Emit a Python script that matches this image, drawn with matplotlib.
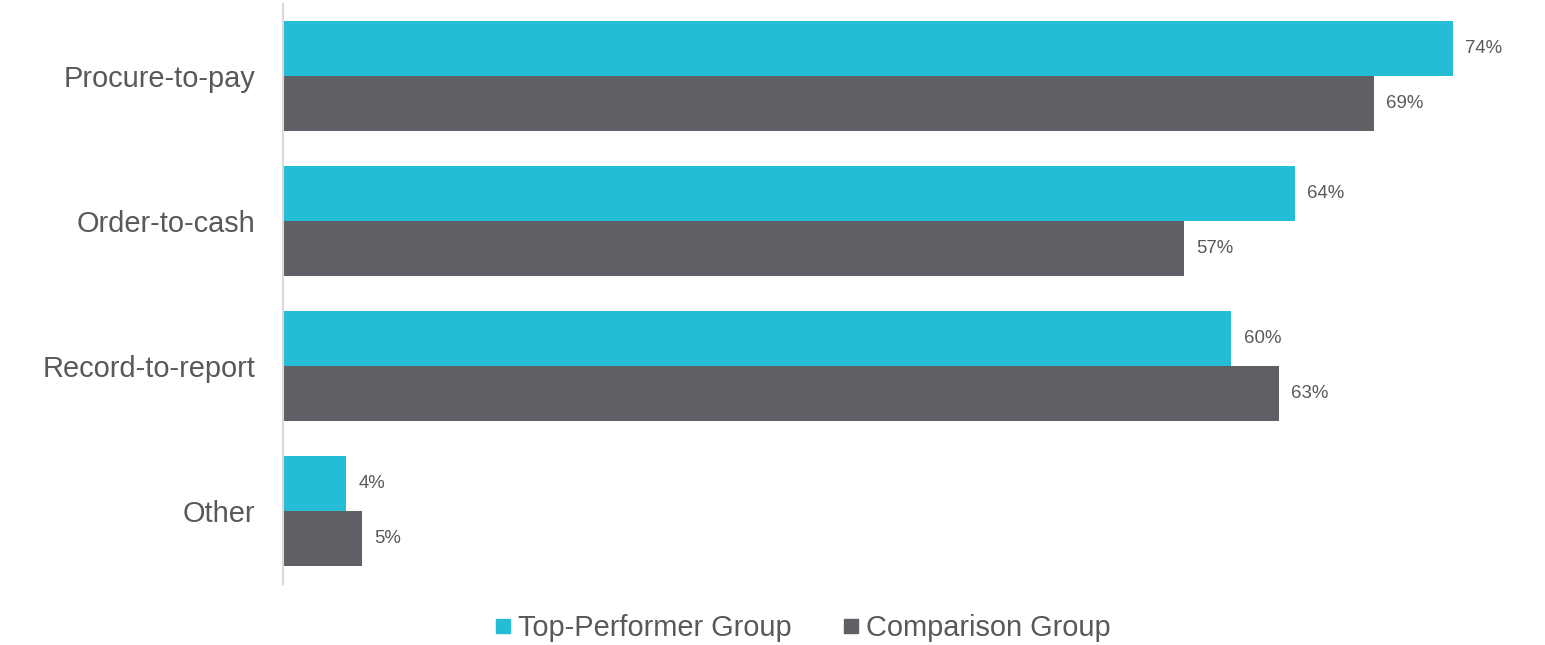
import matplotlib
matplotlib.use("Agg")
import matplotlib.pyplot as plt
from matplotlib.lines import Line2D
import numpy as np

plt.rcParams['font.family'] = ['Liberation Sans', 'DejaVu Sans']

categories = ["Procure-to-pay", "Order-to-cash", "Record-to-report", "Other"]
top_performer = [74, 64, 60, 4]
comparison = [69, 57, 63, 5]
series_names = ["Top-Performer Group", "Comparison Group"]

c_top = "#25BCD6"
c_cmp = "#5F6065"
txt = "#595959"

W, H = 1545, 645
fig = plt.figure(figsize=(W / 100, H / 100), dpi=100)
ax = fig.add_axes([283 / W, 1 - 583.5 / H, (1516 - 283) / W, (583.5 - 3.5) / H])

y = np.arange(len(categories))
h = 0.379
b1 = ax.barh(y - h / 2, top_performer, height=h, color=c_top)
b2 = ax.barh(y + h / 2, comparison, height=h, color=c_cmp)

for bars, vals in ((b1, top_performer), (b2, comparison)):
    for bar, v in zip(bars, vals):
        ax.annotate(f"{v}%", (bar.get_width(), bar.get_y() + bar.get_height() / 2),
                    xytext=(9, 0), textcoords="offset points", va="center", ha="left",
                    fontsize=13.4, color=txt)

ax.set_xlim(0, 78)
ax.set_ylim(len(categories) - 0.5, -0.5)
ax.set_yticks(y)
ax.set_yticklabels(categories, fontsize=20.9, color=txt)
ax.tick_params(axis="y", length=0, pad=20)
ax.set_xticks([])
for s in ("top", "right", "bottom"):
    ax.spines[s].set_visible(False)
ax.spines["left"].set_color("#D9D9D9")
ax.spines["left"].set_linewidth(1.5)

handles = [Line2D([], [], marker="s", linestyle="none", markersize=10, color=c_top),
           Line2D([], [], marker="s", linestyle="none", markersize=10, color=c_cmp)]
leg = fig.legend(handles, series_names, loc="center", bbox_to_anchor=(803 / W, 1 - 628 / H),
                 ncol=2, frameon=False, fontsize=20.9, handlelength=0.55, handletextpad=0.25,
                 columnspacing=1.75, labelcolor=txt)

fig.savefig("out.png", dpi=100)
